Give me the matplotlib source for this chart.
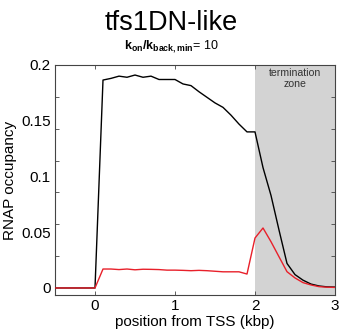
import numpy as np
import matplotlib
matplotlib.use("Agg")
import matplotlib.pyplot as plt

plt.rcParams['font.family'] = ['Liberation Sans', 'DejaVu Sans']
plt.rcParams['mathtext.fontset'] = 'custom'
plt.rcParams['mathtext.rm'] = 'Liberation Sans'
plt.rcParams['mathtext.bf'] = 'Liberation Sans:bold'
plt.rcParams['mathtext.it'] = 'Liberation Sans:italic'

# data (position in kbp from TSS)
position = np.round(np.arange(-0.5, 3.0001, 0.1), 2)
black_occ = [0, 0, 0, 0, 0, 0,
             0.1865, 0.188, 0.190, 0.189, 0.191, 0.189, 0.190, 0.187, 0.187, 0.187,
             0.183, 0.1815, 0.176, 0.171, 0.166, 0.162, 0.155, 0.147, 0.140, 0.140,
             0.108, 0.083, 0.052, 0.022, 0.012, 0.007, 0.0035, 0.0018, 0.001, 0.0008]
red_occ = [0, 0, 0, 0, 0, 0,
           0.017, 0.017, 0.0165, 0.017, 0.0163, 0.0168, 0.0167, 0.0165, 0.016, 0.016,
           0.0158, 0.0155, 0.0158, 0.0155, 0.015, 0.0145, 0.0145, 0.0145, 0.0125, 0.0448,
           0.0538, 0.0415, 0.028, 0.0146, 0.009, 0.0048, 0.0027, 0.0012, 0.0007, 0.0005]
ytick_labels = ["0", "0.05", "0.1", "0.15", "0.2"]
ytick_values = [0, 0.05, 0.1, 0.15, 0.2]
xticks = [0, 1, 2, 3]
term_zone = (2, 3)

fig = plt.figure(figsize=(3.41, 3.30), dpi=100)
ax = fig.add_axes([55/341, 1-295/330, 280/341, 230/330])

ax.axvspan(term_zone[0], term_zone[1], color='#d3d3d3', lw=0, zorder=0)
ax.plot(position, black_occ, color='black', lw=1.0, zorder=3)
ax.plot(position, red_occ, color='#e8202a', lw=1.0, zorder=4)

ax.set_xlim(-0.5, 3)
ax.set_ylim(-0.0063, 0.2)

ax.set_xticks(xticks)
ax.set_xticklabels([str(v) for v in xticks])
ax.set_yticks(ytick_values)
ax.set_yticklabels(ytick_labels)
ax.set_yticks(np.linspace(0, 0.2, 8), minor=True)
ax.tick_params(axis='y', which='major', length=0, labelsize=11, pad=3)
ax.tick_params(axis='y', which='minor', direction='in', length=3, left=True, right=True, width=0.6, color='#444444')
ax.tick_params(axis='x', which='major', direction='in', length=3, top=True, bottom=True, labelsize=11, pad=3, width=0.6, color='#444444')
for s in ax.spines.values():
    s.set_linewidth(0.8)
    s.set_color('#444444')

ax.set_ylabel('RNAP occupancy', fontsize=11, labelpad=3)
ax.set_xlabel('position from TSS (kbp)', fontsize=11, labelpad=1)

ax.text(2.5, 0.1975, 'termination\nzone', ha='center', va='top', fontsize=7.6, color='#333333', linespacing=1.1)

fig.text(171/341, 1-23/330, 'tfs1DN-like', ha='center', va='center', fontsize=19.5)
fig.text(171/341, 1-47/330, r'$\mathbf{k_{on}/k_{back,min}}$= 10', ha='center', va='center', fontsize=9)

fig.savefig('out.png', dpi=100)
